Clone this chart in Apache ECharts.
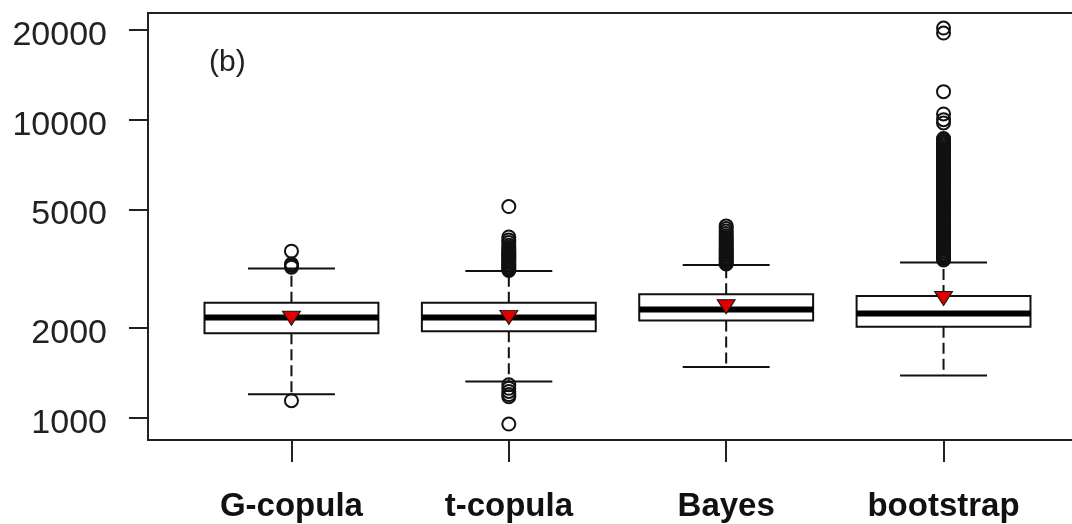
<!DOCTYPE html>
<html style="height: 100%">
<head>
    <meta charset="utf-8">
</head>
<body style="height: 100%; margin: 0; background: #fff">
<div id="container" style="width: 1072px; height: 524px"></div>

<script type="text/javascript" src="https://cdn.jsdelivr.net/npm/echarts@6/dist/echarts.min.js"></script>
<script type="text/javascript">
    // methods on the x axis
    var methods = ['G-copula', 't-copula', 'Bayes', 'bootstrap'];

    // box summaries
    var whiskerLow = [1199, 1323, 1479, 1386];
    var quart1 = [1920, 1950, 2119, 2018];
    var medians = [2169, 2169, 2308, 2237];
    var quart3 = [2431, 2431, 2594, 2559];
    var whiskerHigh = [3166, 3108, 3256, 3318];
    var means = [2156, 2170, 2356, 2510];

    // outliers for each method
    var outG = [3620, 3280, 3240, 3200, 1140];
    var outT = [3120, 3150, 3180, 3210, 3250, 3280, 3320, 3350, 3390, 3430, 3470, 3510,
        3550, 3590, 3630, 3680, 3730, 3790, 3870, 3950, 4040, 5110,
        1290, 1255, 1225, 1195, 1175, 952];
    var outB = [3280, 3310, 3350, 3390, 3420, 3460, 3500, 3540, 3580, 3620, 3660, 3700,
        3740, 3790, 3830, 3880, 3920, 3970, 4020, 4080, 4150, 4230, 4310, 4400];
    var outBs = [3380, 3420, 3460, 3500, 3545, 3590, 3630, 3680, 3720, 3770, 3815, 3860,
        3910, 3960, 4010, 4060, 4110, 4160, 4210, 4270, 4320, 4380, 4430, 4490,
        4550, 4610, 4670, 4730, 4790, 4850, 4920, 4980, 5050, 5110, 5180, 5250,
        5320, 5390, 5460, 5530, 5600, 5680, 5750, 5830, 5900, 5980, 6060, 6140,
        6220, 6300, 6390, 6470, 6560, 6650, 6740, 6830, 6920, 7010, 7100, 7200,
        7300, 7390, 7490, 7590, 7700, 7800, 7900, 8010, 8120, 8230, 8340, 8450,
        8560, 8640, 9750, 10000, 10450, 12420, 19530, 20300];

    var yTicks = [1000, 2000, 5000, 10000, 20000];

    var lg = function (v) { return Math.log10(v); };
    var font = "'Liberation Sans', Arial, sans-serif";

    var boxData = methods.map(function (m, i) {
      return [i + 1, lg(whiskerLow[i]), lg(quart1[i]), lg(medians[i]), lg(quart3[i]), lg(whiskerHigh[i])];
    });
    var outlierData = [];
    [outG, outT, outB, outBs].forEach(function (arr, i) {
      arr.forEach(function (v) { outlierData.push([i + 1, lg(v)]); });
    });
    var meanData = means.map(function (v, i) { return [i + 1, lg(v)]; });

    var boxWex = 0.8;

    function renderBox(params, api) {
      var x = api.value(0);
      var lo = api.coord([x, api.value(1)]);
      var q1 = api.coord([x, api.value(2)]);
      var md = api.coord([x, api.value(3)]);
      var q3 = api.coord([x, api.value(4)]);
      var hi = api.coord([x, api.value(5)]);
      var w = api.size([boxWex, 0])[0];
      var cx = lo[0];
      var solid = { stroke: '#111', lineWidth: 2 };
      var dashed = { stroke: '#111', lineWidth: 2, lineDash: [11, 5] };
      return {
        type: 'group',
        children: [
          { type: 'line', shape: { x1: cx, y1: q3[1], x2: cx, y2: hi[1] }, style: dashed },
          { type: 'line', shape: { x1: cx, y1: q1[1], x2: cx, y2: lo[1] }, style: dashed },
          { type: 'line', shape: { x1: cx - w / 4, y1: hi[1], x2: cx + w / 4, y2: hi[1] }, style: solid },
          { type: 'line', shape: { x1: cx - w / 4, y1: lo[1], x2: cx + w / 4, y2: lo[1] }, style: solid },
          { type: 'rect', shape: { x: cx - w / 2, y: q3[1], width: w, height: q1[1] - q3[1] },
            style: { fill: '#fff', stroke: '#111', lineWidth: 2 } },
          { type: 'line', shape: { x1: cx - w / 2, y1: md[1], x2: cx + w / 2, y2: md[1] },
            style: { stroke: '#000', lineWidth: 6 } }
        ]
      };
    }

    var myChart = echarts.init(document.getElementById('container'), null, { renderer: 'canvas' });

    var option = {
      animation: false,
      backgroundColor: '#fff',
      grid: {
        left: 148, top: 13, width: 939, height: 427,
        outerBoundsMode: 'none',
        containLabel: false,
        show: true, borderColor: '#222', borderWidth: 2, backgroundColor: 'transparent'
      },
      xAxis: {
        type: 'value',
        min: 0.34,
        max: 4.66,
        axisLine: { show: false },
        splitLine: { show: false },
        axisTick: { show: true, length: 22, customValues: [1, 2, 3, 4], lineStyle: { color: '#222', width: 2 } },
        axisLabel: {
          customValues: [1, 2, 3, 4],
          margin: 50,
          fontFamily: font,
          fontSize: 33,
          fontWeight: 'bold',
          color: '#111',
          formatter: function (v) { return methods[Math.round(v) - 1]; }
        }
      },
      yAxis: {
        type: 'value',
        min: 2.925,
        max: 4.358,
        axisLine: { show: false },
        splitLine: { show: false },
        axisTick: { show: true, length: 19, customValues: yTicks.map(lg), lineStyle: { color: '#222', width: 2 } },
        axisLabel: {
          customValues: yTicks.map(lg),
          margin: 41,
          verticalAlign: 'top',
          lineHeight: 11,
          fontFamily: font,
          fontSize: 34,
          color: '#222',
          formatter: function (v) { return Math.round(Math.pow(10, v)); }
        }
      },
      graphic: [{
        type: 'text',
        left: 209,
        top: 48,
        style: { text: '(b)', font: '30px ' + font, fill: '#222' }
      }],
      series: [
        {
          type: 'custom',
          renderItem: renderBox,
          data: boxData,
          encode: { x: 0, y: [1, 2, 3, 4, 5] },
          z: 2
        },
        {
          type: 'scatter',
          data: outlierData,
          symbol: 'circle',
          symbolSize: 13,
          itemStyle: { color: 'rgba(0,0,0,0)', borderColor: '#111', borderWidth: 2, opacity: 1 },
          z: 3
        },
        {
          type: 'scatter',
          data: meanData,
          symbol: 'triangle',
          symbolRotate: 180,
          symbolSize: [18, 14],
          itemStyle: { color: '#e00000', borderColor: '#111', borderWidth: 1, opacity: 1 },
          z: 4
        }
      ]
    };

    myChart.setOption(option);
    window.addEventListener('resize', myChart.resize);
</script>
</body>
</html>
